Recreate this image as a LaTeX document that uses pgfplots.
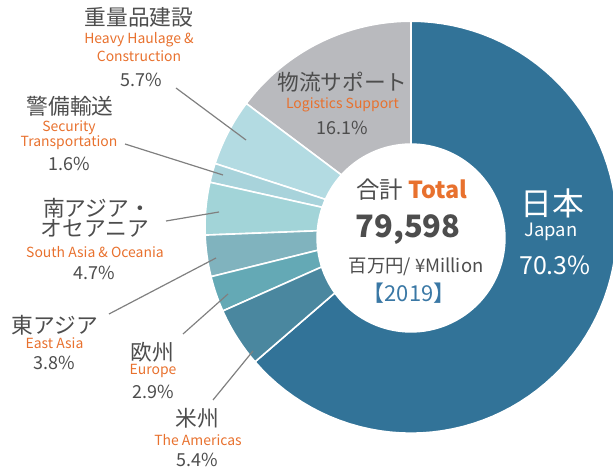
\documentclass[border=0pt]{standalone}
\usepackage{fontspec}
\setmainfont{Noto Sans CJK JP}
\usepackage{pgfplots}
\pgfplotsset{compat=1.18}
\definecolor{cJP}{HTML}{327398}
\definecolor{cAM}{HTML}{4A879F}
\definecolor{cEU}{HTML}{64A9B5}
\definecolor{cEA}{HTML}{80B3BE}
\definecolor{cSA}{HTML}{A2D4D8}
\definecolor{cSE}{HTML}{A8D3DB}
\definecolor{cHV}{HTML}{B3DBE2}
\definecolor{cLG}{HTML}{B9BABE}
\definecolor{txt}{HTML}{4D4D4D}
\definecolor{org}{HTML}{E8712E}
\definecolor{yr}{HTML}{3A78A5}
\definecolor{lead}{HTML}{808080}
% slice boundaries (degrees, counter-clockwise from +x)
% Japan 63.7%  Logistics 14.75%  Heavy 5.25%  Security 1.5%  S.Asia 4.1%  E.Asia 3.25%  Europe 2.8%  Americas 4.65%
\newcommand\cx{411}
\newcommand\cy{243.8}
\newcommand\R{206}
\begin{document}
\begin{tikzpicture}
\begin{axis}[scale only axis, width=613bp, height=471bp,
  xmin=0, xmax=613, ymin=0, ymax=471,
  axis line style={draw=none}, xtick=\empty, ytick=\empty,
  clip=true]
\pgfplotsset{slice/.style={draw=white, line width=1.6bp, samples=80}}
\addplot[slice, fill=cJP, domain=-139.2:90] ({\cx+\R*cos(x)},{\cy+\R*sin(x)}) -- (\cx,\cy) -- cycle;
\addplot[slice, fill=cLG, domain=90:143.1] ({\cx+\R*cos(x)},{\cy+\R*sin(x)}) -- (\cx,\cy) -- cycle;
\addplot[slice, fill=cHV, domain=143.1:162.0] ({\cx+\R*cos(x)},{\cy+\R*sin(x)}) -- (\cx,\cy) -- cycle;
\addplot[slice, fill=cSE, domain=162.0:167.4] ({\cx+\R*cos(x)},{\cy+\R*sin(x)}) -- (\cx,\cy) -- cycle;
\addplot[slice, fill=cSA, domain=167.4:182.2] ({\cx+\R*cos(x)},{\cy+\R*sin(x)}) -- (\cx,\cy) -- cycle;
\addplot[slice, fill=cEA, domain=182.2:193.9] ({\cx+\R*cos(x)},{\cy+\R*sin(x)}) -- (\cx,\cy) -- cycle;
\addplot[slice, fill=cEU, domain=193.9:204.0] ({\cx+\R*cos(x)},{\cy+\R*sin(x)}) -- (\cx,\cy) -- cycle;
\addplot[slice, fill=cAM, domain=204.0:220.8] ({\cx+\R*cos(x)},{\cy+\R*sin(x)}) -- (\cx,\cy) -- cycle;
% inner hole
\addplot[fill=white, draw=none, domain=0:360, samples=120] ({411+94.7*cos(x)},{233+94.7*sin(x)}) -- cycle;
% leader lines
\addplot[lead, line width=1.2bp] coordinates {(176,383) (246,331)};
\addplot[lead, line width=1.2bp] coordinates {(125,327) (223,296)};
\addplot[lead, line width=1.2bp] coordinates {(166,250) (219,259)};
\addplot[lead, line width=1.2bp] coordinates {(109,157) (216,213)};
\addplot[lead, line width=1.2bp] coordinates {(183,137) (228,177)};
\addplot[lead, line width=1.2bp] coordinates {(213,71) (253,120)};
% labels
\tikzset{jp/.style={text=txt, font=\fontsize{21.8}{23}\selectfont, inner sep=0pt},
  en/.style={text=org, font=\fontsize{14}{15}\selectfont, inner sep=0pt},
  pc/.style={text=txt, font=\fontsize{18}{20}\selectfont, inner sep=0pt}}
\node[jp] at (139,454) {重量品建設};
\node[en] at (139,431) {Heavy Haulage \&};
\node[en] at (139,415) {Construction};
\node[pc] at (141,391) {5.7\%};
\node[jp] at (70,364.5) {警備輸送};
\node[en] at (69,343) {Security};
\node[en] at (69,328) {Transportation};
\node[pc] at (69,307) {1.6\%};
\node[jp] at (97,263) {南アジア・};
\node[jp] at (95,243) {オセアニア};
\node[en] at (95,219) {South Asia \& Oceania};
\node[pc] at (94.5,198) {4.7\%};
\node[jp] at (55,146) {東アジア};
\node[en] at (54.5,128) {East Asia};
\node[pc] at (54.5,108) {3.8\%};
\node[jp] at (152,119) {欧州};
\node[en] at (153,100) {Europe};
\node[pc] at (153,79) {2.9\%};
\node[jp] at (197,53) {米州};
\node[en] at (198,31) {The Americas};
\node[pc] at (197,11) {5.4\%};
\node[jp] at (342.5,389) {物流サポート};
\node[en] at (342.5,366) {Logistics Support};
\node[pc] at (342.5,343) {16.1\%};
\node[text=white, inner sep=0pt, font=\fontsize{32}{34}\selectfont] at (552,268) {日本};
\node[text=white, inner sep=0pt, font=\fontsize{18.5}{20}\selectfont] at (551,239) {Japan};
\node[text=white, inner sep=0pt, font=\fontsize{25}{27}\selectfont] at (555,206) {70.3\%};
\node[inner sep=0pt, font=\fontsize{23.5}{25}\selectfont] at (412,281) {\textcolor{txt}{合計} \textcolor{org}{\bfseries Total}};
\node[text=txt, inner sep=0pt, font=\fontsize{31}{33}\selectfont\bfseries] at (408,241) {79,598};
\node[text=txt, inner sep=0pt, font=\fontsize{18.5}{20}\selectfont] at (416,204) {百万円/ ¥Million};
\node[text=yr, inner sep=0pt, font=\fontsize{22}{24}\selectfont] at (409,178) {【2019】};
\end{axis}
\end{tikzpicture}
\end{document}
